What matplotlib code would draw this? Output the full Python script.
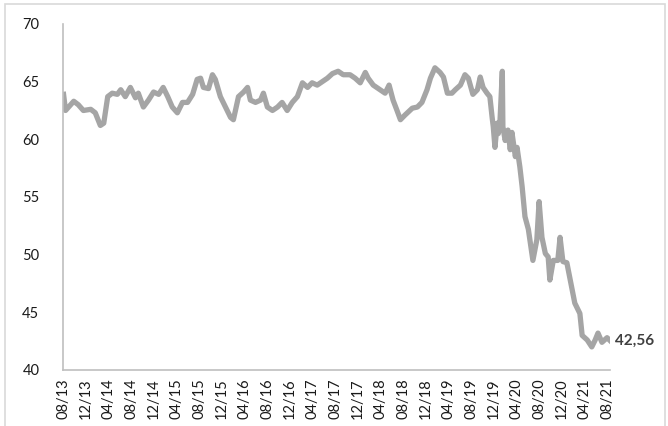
import matplotlib
matplotlib.use('Agg')
import matplotlib.pyplot as plt
from matplotlib.patches import Rectangle

# months elapsed since 08/2013 and the value
months = [0.0, 0.35, 0.9, 1.8, 2.6, 3.5, 4.8, 5.6, 6.5, 7.1, 7.8, 8.6, 9.5, 10.1,
          10.9, 11.8, 12.7, 13.2, 14.1, 15.0, 15.9, 16.8, 17.6, 18.4, 19.2, 20.1,
          21.0, 21.9, 22.8, 23.6, 24.2, 24.7, 25.6, 26.3, 26.8, 27.7, 28.6, 29.5,
          30.0, 30.9, 31.8, 32.5, 33.0, 33.9, 34.8, 35.3, 36.0, 36.9, 37.8, 38.6,
          39.5, 40.4, 41.3, 42.2, 43.1, 43.9, 44.8, 45.7, 46.6, 47.5, 48.5, 49.4,
          50.6, 51.5, 52.4, 53.3, 53.8, 54.7, 55.9, 56.8, 57.5, 58.2, 58.9, 59.5,
          60.3, 61.6, 62.5, 63.3, 64.2, 64.8, 65.6, 66.5, 67.1, 67.8, 68.6, 69.2,
          70.1, 70.9, 71.5, 72.3, 73.1, 73.6, 74.1, 74.8, 75.3, 75.7, 75.9, 76.2,
          76.6, 76.8, 77.1, 77.5, 77.6, 78.0, 78.5, 78.9, 79.2, 79.8, 80.1, 80.6,
          81.0, 81.5, 82.1, 82.9, 83.6, 84.0, 84.5, 85.1, 85.6, 85.9, 86.5, 87.3,
          87.7, 88.2, 88.9, 89.5, 90.3, 91.2, 91.6, 92.5, 93.3, 93.9, 94.4, 95.1,
          96.0, 96.5]
values = [63.9, 62.5, 62.8, 63.3, 63.0, 62.5, 62.6, 62.3, 61.2, 61.4, 63.7, 64.0, 63.9, 64.3,
          63.7, 64.5, 63.6, 64.0, 62.8, 63.4, 64.1, 63.9, 64.5, 63.7, 62.8, 62.3,
          63.2, 63.2, 63.9, 65.2, 65.3, 64.5, 64.4, 65.6, 65.2, 63.7, 62.8, 61.9,
          61.7, 63.7, 64.1, 64.5, 63.4, 63.2, 63.4, 64.0, 62.8, 62.5, 62.8, 63.2,
          62.5, 63.2, 63.7, 64.9, 64.5, 64.9, 64.7, 65.0, 65.3, 65.7, 65.9, 65.6,
          65.6, 65.3, 64.9, 65.8, 65.3, 64.7, 64.3, 64.0, 64.7, 63.4, 62.5, 61.7,
          62.1, 62.7, 62.8, 63.2, 64.3, 65.3, 66.2, 65.8, 65.4, 64.0, 64.0, 64.3,
          64.7, 65.6, 65.3, 63.9, 64.3, 65.4, 64.5, 64.0, 63.7, 61.9, 61.1, 59.3,
          61.4, 60.5, 61.7, 65.9, 61.1, 59.9, 60.8, 59.1, 60.6, 58.5, 59.3, 57.6,
          55.9, 53.3, 52.2, 49.5, 51.3, 54.6, 51.5, 50.1, 49.8, 47.8, 49.5, 49.5,
          51.5, 49.4, 49.3, 47.8, 45.8, 44.9, 43.0, 42.6, 42.0, 42.6, 43.2, 42.4,
          42.8, 42.56]

tick_labels = ['08/13', '12/13', '04/14', '08/14', '12/14', '04/15', '08/15', '12/15',
               '04/16', '08/16', '12/16', '04/17', '08/17', '12/17', '04/18', '08/18',
               '12/18', '04/19', '08/19', '12/19', '04/20', '08/20', '12/20', '04/21',
               '08/21']
last_label = '42,56'

plt.rcParams['font.family'] = ['Lato', 'DejaVu Sans']

fig = plt.figure(figsize=(6.68, 4.26), dpi=100)
ax = fig.add_axes([0.0943, 0.1315, 0.8187, 0.8122])

# outer frame like the pasted excel chart
fig.patches.append(Rectangle((5 / 668, -0.05), 660 / 668, 1.05 - 4 / 426,
                             transform=fig.transFigure, fill=False,
                             edgecolor='#d9d9d9', linewidth=1.2))

ax.plot(months, values, color='#a5a5a5', linewidth=3.8, solid_joinstyle='round')

ax.annotate(last_label, xy=(months[-1], values[-1]), xytext=(4, 0),
            textcoords='offset points', ha='left', va='center',
            fontsize=11, fontweight='bold', color='#404040', annotation_clip=False)

ax.set_xlim(-0.1, 96.5)
ax.set_ylim(40, 70)
ax.set_yticks(range(40, 71, 5))
ax.set_xticks([4 * i for i in range(len(tick_labels))])
ax.set_xticklabels(tick_labels, rotation=90)

for s in ['top', 'right']:
    ax.spines[s].set_visible(False)
for s in ['left', 'bottom']:
    ax.spines[s].set_color('#bfbfbf')
    ax.spines[s].set_linewidth(1.2)

ax.tick_params(axis='both', length=0, labelsize=10.5, labelcolor='#1a1a1a')
ax.tick_params(axis='y', pad=17)
ax.tick_params(axis='x', pad=6)

plt.savefig('out.png', dpi=100)
